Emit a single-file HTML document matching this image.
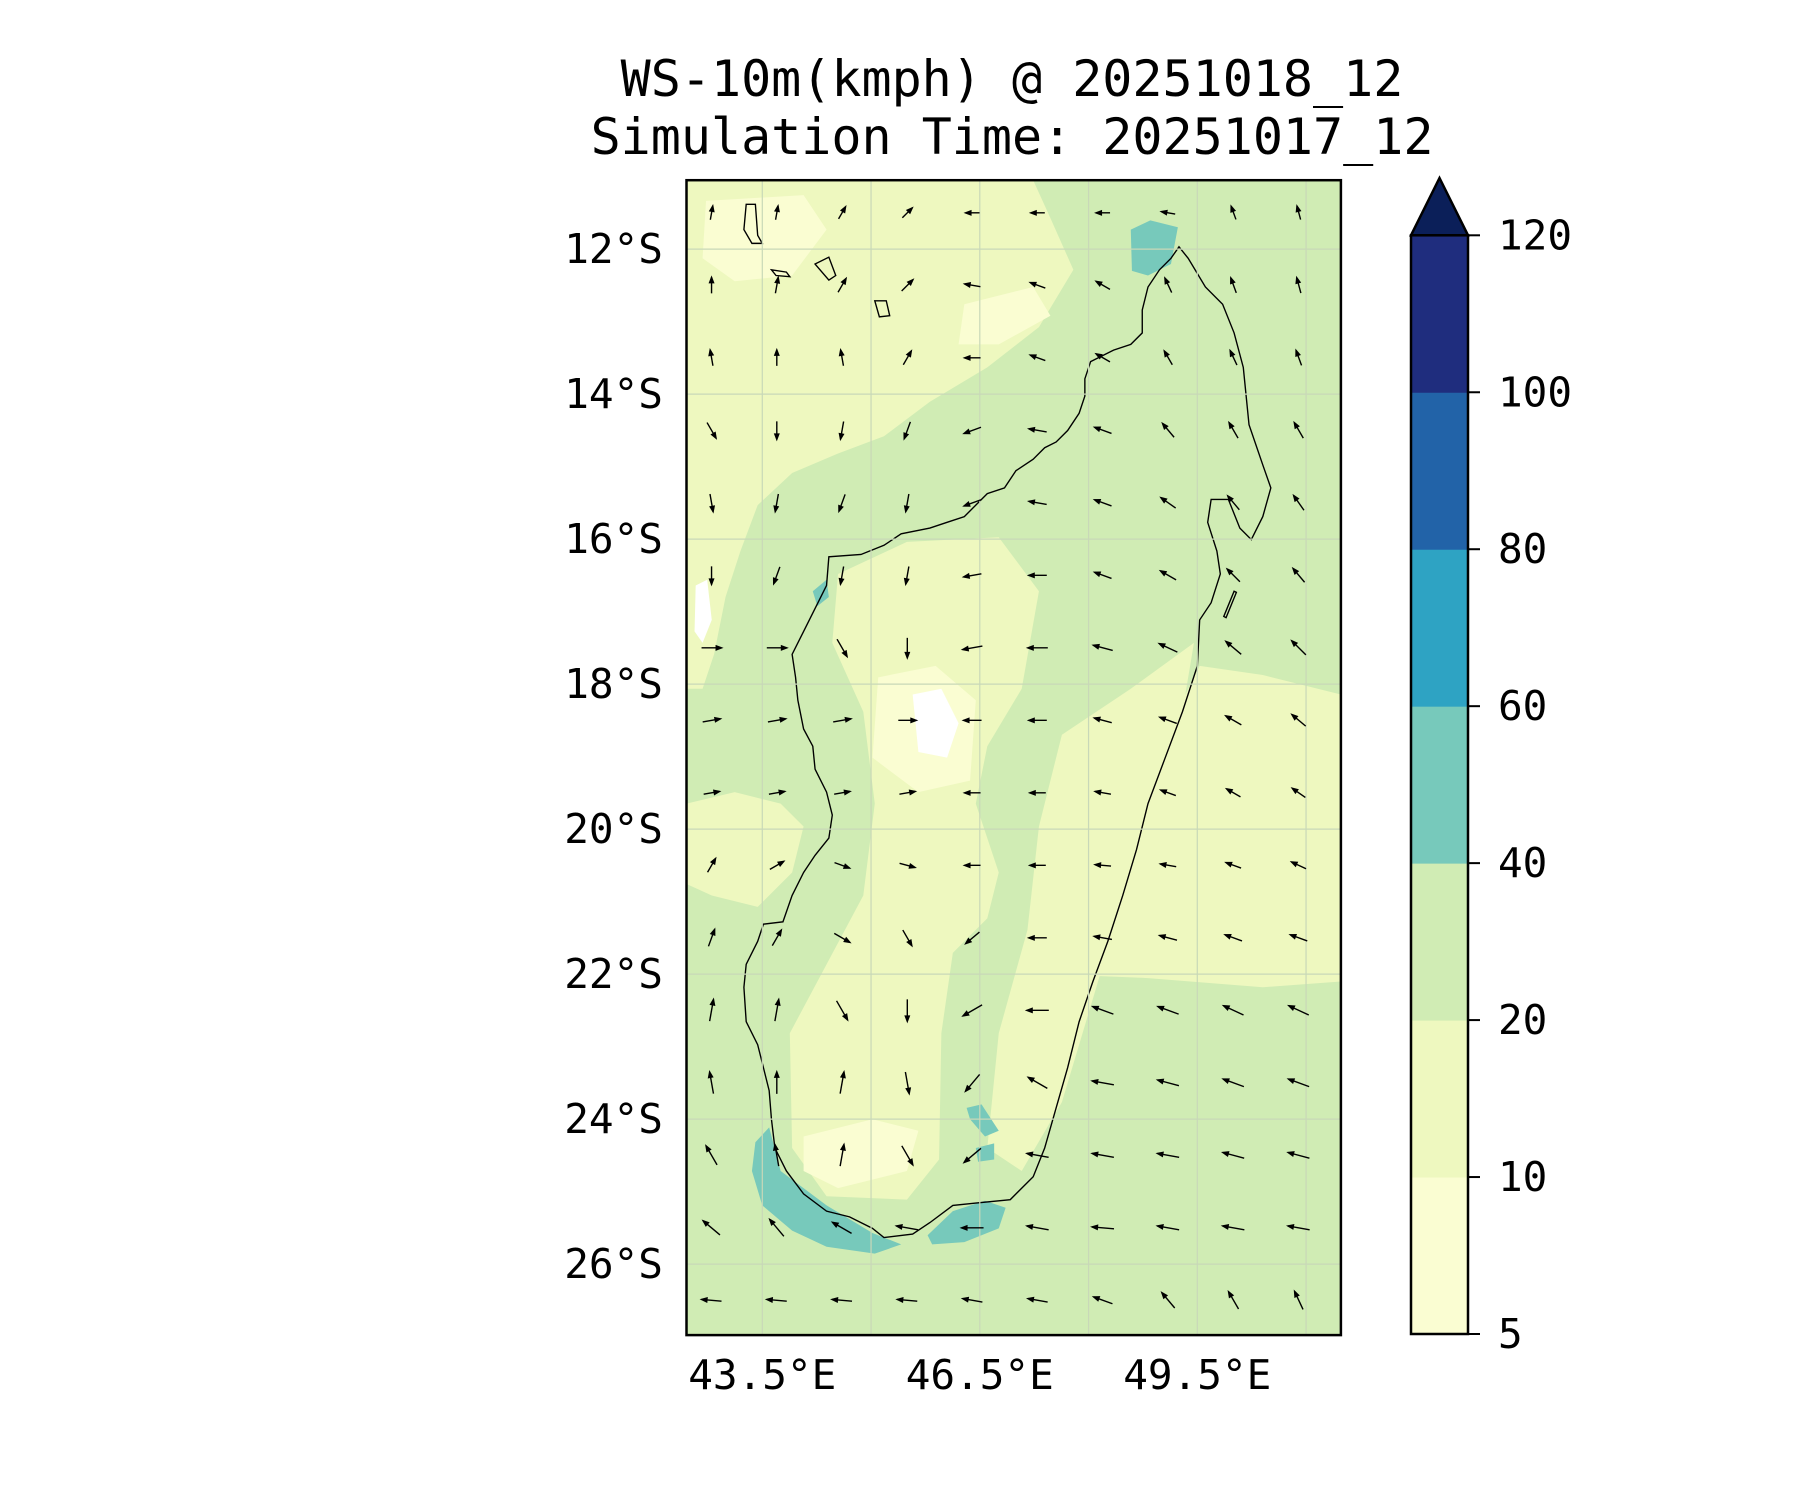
<!DOCTYPE html>
<html><head><meta charset="utf-8"><style>
html,body{margin:0;padding:0;background:#fff;}
svg text{font-family:"DejaVu Sans Mono","Liberation Mono",monospace;fill:#000;}
</style></head><body>
<svg id="chart" width="1800" height="1500" viewBox="0 0 1800 1500" xmlns="http://www.w3.org/2000/svg">
<text x="1012" y="96" font-size="50" text-anchor="middle">WS-10m(kmph) @ 20251018_12</text>
<text x="1012" y="154" font-size="50" text-anchor="middle">Simulation Time: 20251017_12</text>
<defs><clipPath id="mapclip"><rect x="686.5" y="180.2" width="654.4" height="1154.9"/></clipPath></defs>
<g clip-path="url(#mapclip)">
 <rect x="686.5" y="180.2" width="654.4" height="1154.9" fill="#d0ecb4"/>
 <g transform="scale(1.148)">
  <path fill="#eef8bf" d="M598,157 L900,157 L915,190 L935,235 L905,285 L860,320 L810,350 L770,380 L730,395 L690,412 L660,440 L645,480 L632,520 L622,570 L612,600 L598,600 Z"/>
  <path fill="#eef8bf" d="M598,700 L640,690 L680,700 L700,720 L690,760 L660,790 L620,780 L598,770 Z"/>
  <path fill="#eef8bf" d="M1045,580 L1100,588 L1168,605 L1168,855 L1100,860 L1000,852 L950,850 L975,770 L995,700 L1020,630 Z"/>
  <path fill="#eef8bf" d="M730,500 L790,472 L870,468 L905,515 L890,600 L860,650 L850,700 L870,760 L860,800 L830,830 L820,900 L818,1010 L790,1045 L720,1042 L690,1000 L688,900 L720,840 L752,780 L762,700 L752,620 L725,560 Z"/>
  <path fill="#eef8bf" d="M925,640 L985,600 L1040,560 L1030,620 L990,740 L955,860 L925,960 L890,1020 L860,1000 L870,900 L895,810 L905,720 Z"/>
  <path fill="#fafdd2" d="M615,175 L700,170 L720,200 L690,240 L640,245 L612,225 Z"/>
  <path fill="#fafdd2" d="M840,265 L900,250 L915,275 L870,300 L835,300 Z"/>
  <path fill="#fafdd2" d="M765,590 L815,580 L850,610 L845,680 L800,690 L760,660 Z"/>
  <path fill="#fafdd2" d="M700,990 L760,975 L800,985 L790,1020 L730,1035 L700,1020 Z"/>
  <path fill="#ffffff" d="M795,605 L820,600 L835,630 L825,660 L800,655 Z"/>
  <path fill="#ffffff" d="M606,510 L616,505 L620,540 L612,560 L605,550 Z"/>
  <path fill="#77c9bb" d="M658,995 L670,982 L680,1020 L720,1050 L760,1074 L785,1084 L762,1092 L720,1086 L690,1072 L664,1050 L655,1020 Z"/>
  <path fill="#77c9bb" d="M808,1076 L830,1055 L858,1046 L876,1052 L870,1070 L840,1082 L812,1084 Z"/>
  <path fill="#77c9bb" d="M985,200 L1002,192 L1026,198 L1020,230 L1000,240 L986,236 Z"/>
  <path fill="#77c9bb" d="M842,965 L855,962 L870,985 L858,990 L845,975 Z"/>
  <path fill="#77c9bb" d="M850,1000 L866,996 L866,1010 L852,1012 Z"/>
  <path fill="#77c9bb" d="M708,515 L720,505 L722,520 L712,528 Z"/>
  <path fill="none" stroke="#000" stroke-width="1.2" d="M1027,215 L1035,225 L1050,250 L1065,265 L1075,290 L1083,320 L1088,370 L1100,405 L1107,425 L1100,450 L1090,470 L1080,460 L1070,435 L1055,435 L1052,455 L1060,480 L1063,500 L1055,525 L1045,540 L1043,580 L1030,620 L1015,660 L1000,700 L990,740 L978,780 L965,820 L952,855 L940,890 L930,930 L920,965 L910,1000 L900,1025 L880,1045 L850,1048 L830,1050 L810,1065 L795,1075 L770,1078 L760,1070 L740,1060 L720,1055 L700,1040 L685,1020 L675,1000 L672,975 L670,950 L665,930 L660,910 L650,890 L648,860 L650,840 L660,820 L665,805 L682,803 L690,780 L700,760 L710,745 L722,730 L725,710 L720,690 L710,670 L708,650 L700,635 L695,610 L693,590 L690,570 L700,550 L710,530 L720,510 L722,485 L750,483 L770,475 L785,465 L810,460 L825,455 L840,450 L850,440 L860,430 L875,425 L885,410 L900,400 L910,390 L920,385 L930,375 L940,360 L945,345 L945,330 L950,315 L960,310 L970,305 L985,300 L995,290 L995,270 L1000,250 L1010,235 L1020,225 Z"/>
  <path fill="none" stroke="#000" stroke-width="1.2" d="M650,178 L658,178 L660,205 L664,212 L655,212 L648,200 Z"/>
  <path fill="none" stroke="#000" stroke-width="1.2" d="M672,235 L685,237 L688,241 L676,240 Z"/>
  <path fill="none" stroke="#000" stroke-width="1.2" d="M710,230 L722,224 L728,240 L722,244 Z"/>
  <path fill="none" stroke="#000" stroke-width="1.2" d="M762,262 L772,262 L775,275 L766,276 Z"/>
  <path fill="none" stroke="#000" stroke-width="1.2" d="M1075,515 L1077,516 L1068,538 L1066,537 Z"/>
 </g>
 <g id="gridlines"></g>
 <g id="arrows"></g>
</g>
<rect x="686.5" y="180.2" width="654.4" height="1154.9" fill="none" stroke="#000" stroke-width="2.5"/>
<g id="yticks"></g>
<g id="xticks"></g>
<g id="colorbar"></g>
</svg>
<script>
const latTicks = [12,14,16,18,20,22,24,26];
const lonTicks = [43.5,46.5,49.5];
const lonGrid = [43.5,45,46.5,48,49.5,51];
const cbLevels = [5,10,20,40,60,80,100,120];
const cbColors = ['#fafdd2','#eef8bf','#d0ecb4','#77c9bb','#2ea3c3','#2263a8','#1f2d7e'];
const cbExtendColor = '#0b1f59';
const arrowLons = [42.8,43.7,44.6,45.5,46.4,47.3,48.2,49.1,50.0,50.9];
const arrowLats = [11.5,12.5,13.5,14.5,15.5,16.5,17.5,18.5,19.5,20.5,21.5,22.5,23.5,24.5,25.5,26.5];
const arrowDirs = [
[80,80,60,45,180,180,180,170,110,105],
[90,80,60,45,170,160,150,115,110,105],
[100,90,100,60,180,160,150,120,115,110],
[300,270,260,250,200,170,160,130,120,120],
[280,260,250,260,200,170,160,145,130,125],
[270,250,260,260,190,180,160,150,135,130],
[0,0,300,270,190,180,165,155,140,135],
[10,10,10,0,180,180,165,160,150,140],
[10,10,10,10,180,180,170,160,150,145],
[60,30,340,345,180,180,175,170,160,155],
[70,60,330,300,220,180,170,165,160,160],
[80,80,300,270,210,180,160,160,155,155],
[100,90,80,280,230,150,170,165,160,160],
[120,100,80,300,220,170,170,170,165,165],
[140,130,150,170,180,170,175,170,170,170],
[175,175,175,175,170,170,160,130,120,115]];
const rowSpeeds = [14,16,16,18,18,18,20,18,16,16,18,22,22,22,22,20];

const NS='http://www.w3.org/2000/svg';
const X0=686.5, Y0=180.2, X1=1340.9, Y1=1335.1;
function xOf(lon){return 762.3+(lon-43.5)*72.5;}
function yOf(lat){return 249.1+(lat-12)*72.5;}
function mk(tag,attrs,parent){const e=document.createElementNS(NS,tag);for(const k in attrs)e.setAttribute(k,attrs[k]);parent.appendChild(e);return e;}

const grid=document.getElementById('gridlines');
lonGrid.forEach(l=>{const e=mk('line',{x1:xOf(l),x2:xOf(l),y1:Y0,y2:Y1,stroke:'#c8d8b8','stroke-width':1.2},grid);

});
latTicks.forEach(l=>{const e=mk('line',{x1:X0,x2:X1,y1:yOf(l),y2:yOf(l),stroke:'#c8d8b8','stroke-width':1.2},grid);

});

const arr=document.getElementById('arrows');
arrowLats.forEach((lat,i)=>{arrowLons.forEach((lon,j)=>{
 const a=arrowDirs[i][j]*Math.PI/180, L=rowSpeeds[i];
 const cx=xOf(lon), cy=yOf(lat);
 const dx=Math.cos(a)*L, dy=-Math.sin(a)*L;
 const x1=cx-dx/2,y1=cy-dy/2,x2=cx+dx/2,y2=cy+dy/2;
 const g=mk('g',{},arr);
 
 
 mk('line',{x1:x1,y1:y1,x2:x2,y2:y2,stroke:'#000','stroke-width':1.4},g);
 const ux=Math.cos(a),uy=-Math.sin(a),px=-uy,py=ux,h=6;
 mk('polygon',{points:`${x2+ux*2},${y2+uy*2} ${x2-ux*h+px*3},${y2-uy*h+py*3} ${x2-ux*h-px*3},${y2-uy*h-py*3}`,fill:'#000'},g);
});});

const yt=document.getElementById('yticks');
latTicks.forEach(l=>{const t=mk('text',{x:663,y:yOf(l)+14,'font-size':41,'text-anchor':'end'},yt);t.textContent=l+'°S';

});
const xt=document.getElementById('xticks');
lonTicks.forEach(l=>{const t=mk('text',{x:xOf(l),y:1389,'font-size':41,'text-anchor':'middle'},xt);t.textContent=l+'°E';

});

const cb=document.getElementById('colorbar');
const CX=1411, CW=57, CT=235.3, CB=1334, step=(CB-CT)/(cbLevels.length-1);
cbColors.forEach((c,i)=>{const r=mk('rect',{x:CX,y:CB-(i+1)*step,width:CW,height:step+0.5,fill:c},cb);

});
const tri=mk('polygon',{points:`${CX},${CT} ${CX+CW/2},178 ${CX+CW},${CT}`,fill:cbExtendColor,stroke:'#000','stroke-width':2.5},cb);


const fr=mk('rect',{x:CX,y:CT,width:CW,height:CB-CT,fill:'none',stroke:'#000','stroke-width':2.5},cb);


cbLevels.forEach((v,i)=>{const y=CB-i*step;
 mk('line',{x1:CX+CW,x2:CX+CW+12,y1:y,y2:y,stroke:'#000','stroke-width':2},cb);
 const t=mk('text',{x:CX+CW+30,y:y+14,'font-size':41},cb);t.textContent=v;
 
 });
</script>
</body></html>
